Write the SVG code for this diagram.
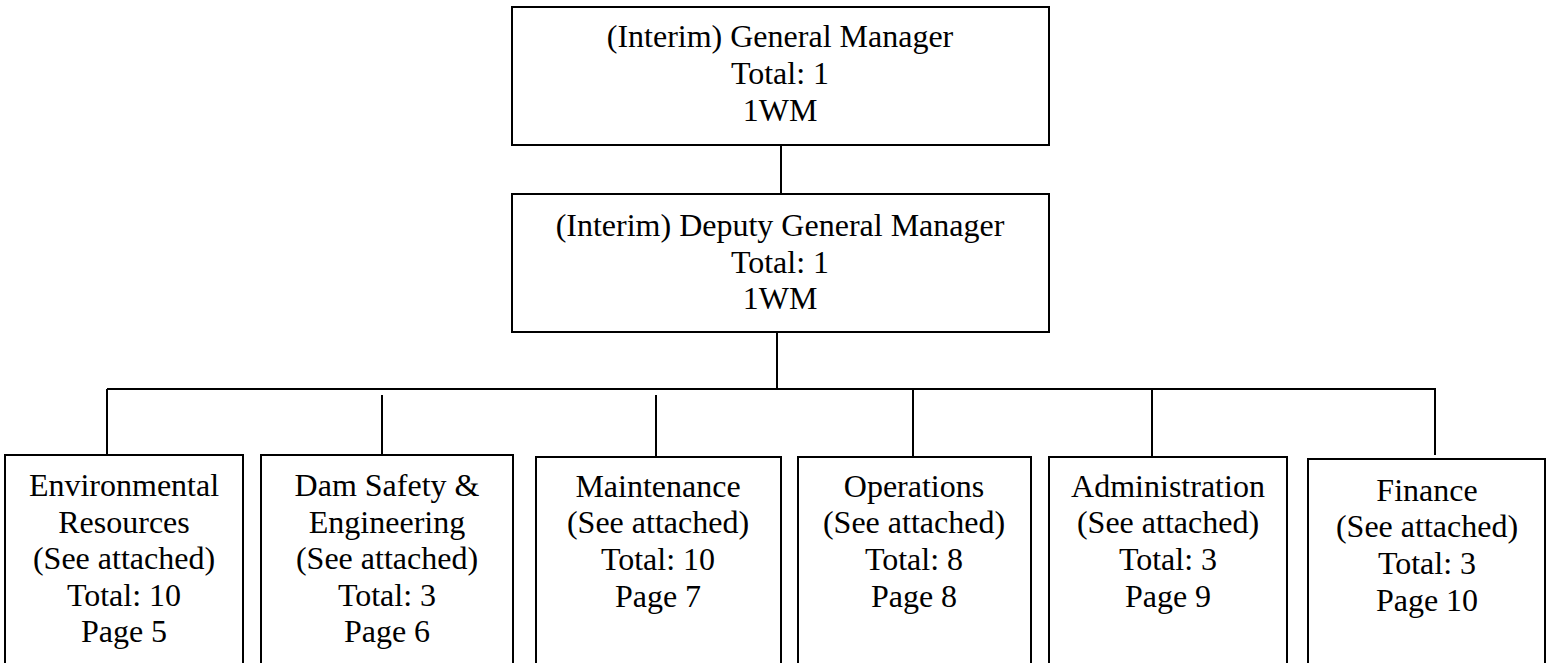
<svg xmlns="http://www.w3.org/2000/svg" width="1546" height="663" viewBox="0 0 1546 663">
<style>
.box{fill:#fff;stroke:#000;stroke-width:2}
.ln{stroke:#000;stroke-width:2;fill:none}
text{font-family:"Liberation Serif","Times New Roman",serif;font-size:32px;fill:#000;text-anchor:middle}
</style>
<rect width="1546" height="663" fill="#fff"/>
<g id="connectors">
<line class="ln" x1="781" y1="145" x2="781" y2="194"/>
<line class="ln" x1="777" y1="332" x2="777" y2="389"/>
<line class="ln" x1="107" y1="389" x2="1436" y2="389"/>
<line class="ln" x1="107" y1="389" x2="107" y2="455"/>
<line class="ln" x1="382" y1="395" x2="382" y2="455"/>
<line class="ln" x1="656" y1="395" x2="656" y2="457"/>
<line class="ln" x1="913" y1="389" x2="913" y2="457"/>
<line class="ln" x1="1152" y1="389" x2="1152" y2="457"/>
<line class="ln" x1="1435" y1="389" x2="1435" y2="455"/>
</g>
<g id="gm">
<rect class="box" x="512" y="7" width="537" height="138"/>
<text x="780" y="47">(Interim) General Manager</text>
<text x="780" y="84">Total: 1</text>
<text x="780" y="121">1WM</text>
</g>
<g id="dgm">
<rect class="box" x="512" y="194" width="537" height="138"/>
<text x="780" y="236">(Interim) Deputy General Manager</text>
<text x="780" y="273">Total: 1</text>
<text x="780" y="309">1WM</text>
</g>
<g id="env">
<rect class="box" x="5" y="455" width="238" height="240"/>
<text x="124" y="496">Environmental</text>
<text x="124" y="533">Resources</text>
<text x="124" y="569">(See attached)</text>
<text x="124" y="606">Total: 10</text>
<text x="124" y="642">Page 5</text>
</g>
<g id="dam">
<rect class="box" x="261" y="455" width="252" height="240"/>
<text x="387" y="496">Dam Safety &amp;</text>
<text x="387" y="533">Engineering</text>
<text x="387" y="569">(See attached)</text>
<text x="387" y="606">Total: 3</text>
<text x="387" y="642">Page 6</text>
</g>
<g id="maint">
<rect class="box" x="536" y="457" width="245" height="240"/>
<text x="658" y="497">Maintenance</text>
<text x="658" y="533">(See attached)</text>
<text x="658" y="570">Total: 10</text>
<text x="658" y="607">Page 7</text>
</g>
<g id="ops">
<rect class="box" x="798" y="457" width="233" height="240"/>
<text x="914" y="497">Operations</text>
<text x="914" y="533">(See attached)</text>
<text x="914" y="570">Total: 8</text>
<text x="914" y="607">Page 8</text>
</g>
<g id="admin">
<rect class="box" x="1049" y="457" width="238" height="240"/>
<text x="1168" y="497">Administration</text>
<text x="1168" y="533">(See attached)</text>
<text x="1168" y="570">Total: 3</text>
<text x="1168" y="607">Page 9</text>
</g>
<g id="fin">
<rect class="box" x="1308" y="459" width="237" height="240"/>
<text x="1427" y="501">Finance</text>
<text x="1427" y="537">(See attached)</text>
<text x="1427" y="574">Total: 3</text>
<text x="1427" y="611">Page 10</text>
</g>
</svg>
